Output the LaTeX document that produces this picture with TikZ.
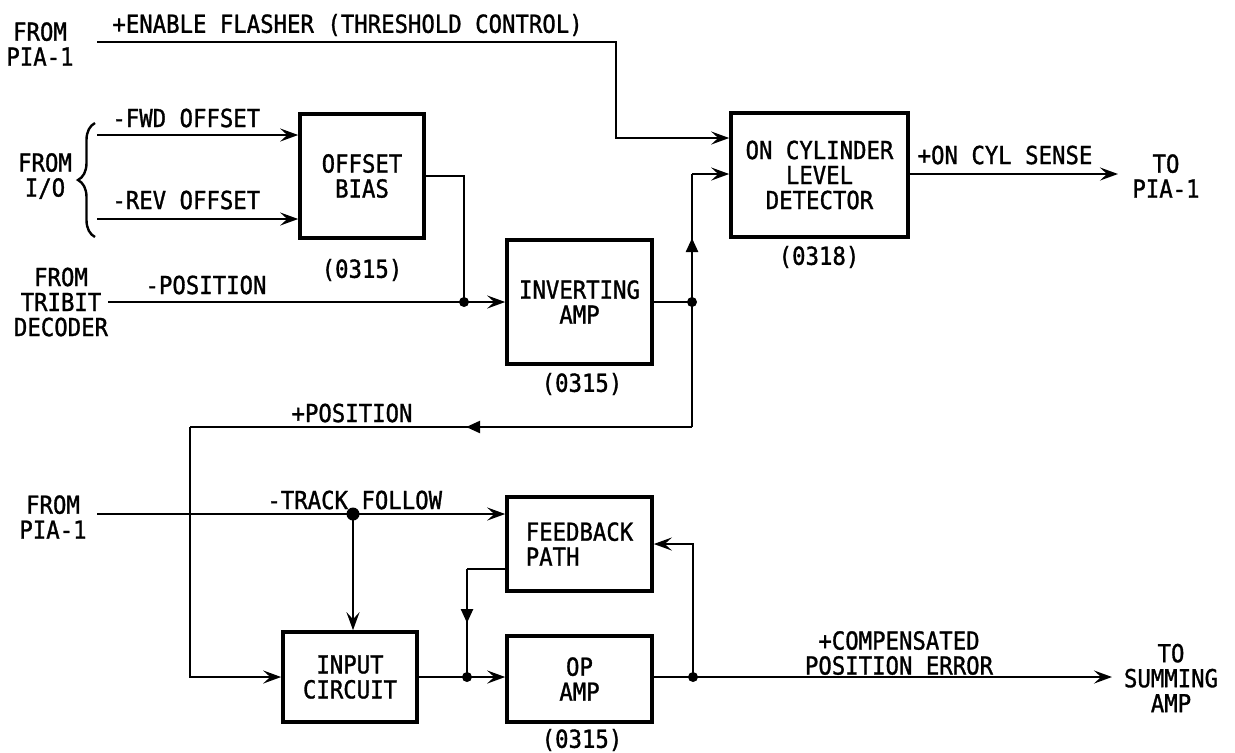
\documentclass[tikz,border=0pt]{standalone}
\usepackage{fontspec}
\setmainfont{DejaVu Sans Mono}[FakeStretch=0.9, FakeBold=1.2]
\usetikzlibrary{arrows.meta,decorations.markings,decorations.pathreplacing}

\begin{document}
\begin{tikzpicture}[x=0.5pt, y=-0.5pt, font=\fontsize{12.4}{12.5}\selectfont,
    blk/.style={draw, line width=1.8pt, align=center, inner sep=0pt},
    lbl/.style={inner sep=0pt, align=center},
    wire/.style={line width=1.2pt},
    arr/.style={wire, -{Stealth[length=9pt,width=6.5pt,inset=3.5pt]}},
    midtri/.style={postaction={decorate}, decoration={markings,
        mark=at position #1 with {\arrow{Triangle[length=7pt,width=6pt]}}}},
    dot/.style={circle, fill, inner sep=0pt, minimum size=5pt}]
    \useasboundingbox (0,0) rectangle (1235,752);
    % blocks
    \node[blk, minimum width=62pt, minimum height=62pt] (bias) at (362,176) {OFFSET\\BIAS};
    \node[blk, minimum width=88.5pt, minimum height=62pt] (oncyl) at (819.5,175) {ON CYLINDER\\LEVEL\\DETECTOR};
    \node[blk, minimum width=72.5pt, minimum height=62pt] (inv) at (579.5,302) {INVERTING\\AMP};
    \node[blk, minimum width=72.5pt, minimum height=47pt, align=left] (fb) at (579.5,544) {FEEDBACK\\PATH};
    \node[blk, minimum width=67pt, minimum height=45pt] (inp) at (350,677) {INPUT\\CIRCUIT};
    \node[blk, minimum width=72.5pt, minimum height=43pt] (opamp) at (579.5,679) {OP\\AMP};
    \node[lbl] (biasno) at (362,270) {(0315)};
    \node[lbl] (oncylno) at (819,257) {(0318)};
    \node[lbl] (invno) at (582,384) {(0315)};
    \node[lbl] (opampno) at (582,740) {(0315)};
    % sources and sinks
    \node[lbl] (pia1) at (40,44) {FROM\\PIA-1};
    \node[lbl] (io) at (45,176) {FROM\\I/O};
    \node[lbl] (tribit) at (61,302) {FROM\\TRIBIT\\DECODER};
    \node[lbl] (pia2) at (53,517) {FROM\\PIA-1};
    \node[lbl] (topia) at (1166,176) {TO\\PIA-1};
    \node[lbl] (tosum) at (1171,678) {TO\\SUMMING\\AMP};
    % bends and junctions
    \coordinate (ena) at (97,42);
    \coordinate (enb) at (616,138);
    \coordinate (fwd) at (97,135);
    \coordinate (rev) at (97,219);
    \coordinate (jpos) at (464,302);
    \coordinate (jinv) at (692,302);
    \coordinate (cup) at (692,174);
    \coordinate (pr) at (692,427);
    \coordinate (pl) at (190,427);
    \coordinate (cyo) at (1118,174);
    \coordinate (trk) at (97,514);
    \coordinate (jtrk) at (353,514);
    \coordinate (fbo) at (507,569);
    \coordinate (fbb) at (467,569);
    \coordinate (jfb) at (467,677);
    \coordinate (jop) at (693,677);
    \coordinate (outE) at (1112,677);
    % upper part
    \draw[arr] (ena) -| (enb) -- (oncyl.west |- enb);
    \node[lbl, anchor=west] (enal) at (112,25) {+ENABLE FLASHER (THRESHOLD CONTROL)};
    \draw[wire, decorate, decoration={brace, amplitude=8.5pt}] (95,237) -- (95,123);
    \draw[arr] (fwd) -- (bias.west |- fwd);
    \draw[arr] (rev) -- (bias.west |- rev);
    \node[lbl, anchor=west] (fwdl) at (112,118) {-FWD OFFSET};
    \node[lbl, anchor=west] (revl) at (112,200) {-REV OFFSET};
    \draw[wire] (bias.east) -| (jpos);
    \draw[arr] (tribit.east) -- (inv.west);
    \node[lbl] (posl) at (206,285) {-POSITION};
    \node[dot] (dpos) at (jpos) {};
    \draw[wire] (inv.east) -- (jinv);
    \node[dot] (dinv) at (jinv) {};
    \draw[wire, midtri=0.5] (jinv) -- (cup);
    \draw[arr] (cup) -- (oncyl.west |- cup);
    \draw[arr] (oncyl.east |- cyo) -- (cyo);
    \node[lbl] (sensel) at (1005,155) {+ON CYL SENSE};
    % +position loop
    \draw[wire] (jinv) -- (pr);
    \draw[wire, midtri=0.45] (pr) -- (pl);
    \draw[arr] (pl) |- (inp.west);
    \node[lbl] (ppos) at (352,413) {+POSITION};
    % lower part
    \draw[arr] (trk) -- (fb.west |- trk);
    \node[lbl, anchor=west] (trkl) at (267,500) {-TRACK FOLLOW};
    \node[dot, minimum size=6.5pt] (dtrk) at (jtrk) {};
    \draw[arr] (jtrk) -- (jtrk |- inp.north);
    \draw[wire] (fbo) -- (fbb);
    \draw[wire, midtri=0.5] (fbb) -- (jfb);
    \draw[wire] (inp.east) -- (jfb);
    \node[dot] (dfb) at (jfb) {};
    \draw[arr] (jfb) -- (opamp.west |- jfb);
    \draw[wire] (opamp.east |- jop) -- (jop);
    \node[dot] (dop) at (jop) {};
    \draw[arr] (jop) |- (fb.east);
    \draw[arr] (jop) -- (outE);
    \node[lbl] (cpel) at (899,653) {+COMPENSATED\\POSITION ERROR};
\end{tikzpicture}
\end{document}
